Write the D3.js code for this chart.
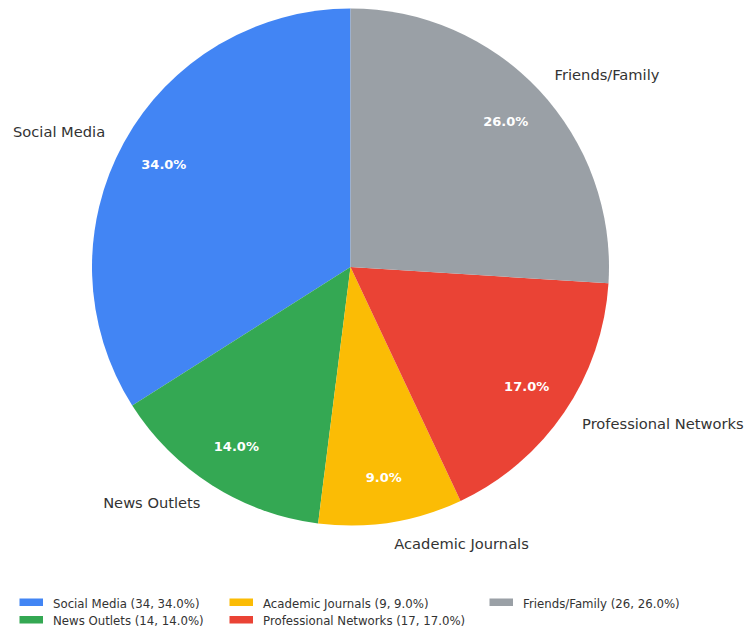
<!DOCTYPE html>
<html>
<head>
<meta charset="utf-8">
<script src="https://cdn.jsdelivr.net/npm/d3@7"></script>
<style>
  html, body { margin: 0; padding: 0; background: #fff; }
  svg { display: block; font-family: "DejaVu Sans", sans-serif; }
</style>
</head>
<body>
<svg id="chart" width="747" height="629"></svg>
<script>
// Information sources, in drawing order (counter-clockwise from 12 o'clock)
const categories = ["Social Media", "News Outlets", "Academic Journals", "Professional Networks", "Friends/Family"];
const counts = [34, 14, 9, 17, 26];
const colors = ["#4285F4", "#34A853", "#FBBC05", "#EA4335", "#9AA0A6"];

const width = 747, height = 629;
const cx = 350.5, cy = 267, radius = 258.5;
const pctRadius = 213, labelRadius = 280;

const data = categories.map((c, i) => ({ name: c, value: counts[i], color: colors[i] }));
const total = d3.sum(counts);

const svg = d3.select("#chart");
const g = svg.append("g").attr("transform", `translate(${cx},${cy})`);

// Counter-clockwise layout starting at the top
const pie = d3.pie()
  .sort(null)
  .value(d => d.value)
  .startAngle(0)
  .endAngle(-2 * Math.PI);

const arcs = pie(data);
const arc = d3.arc().innerRadius(0).outerRadius(radius);

g.selectAll("path.slice")
  .data(arcs)
  .join("path")
  .attr("class", "slice")
  .attr("d", arc)
  .attr("fill", d => d.data.color);

const mid = d => (d.startAngle + d.endAngle) / 2;
const pos = (d, r) => [Math.sin(mid(d)) * r, -Math.cos(mid(d)) * r];
const fmt = d3.format(".1f");

// Percent labels inside the slices
g.selectAll("text.pct")
  .data(arcs)
  .join("text")
  .attr("class", "pct")
  .attr("x", d => pos(d, pctRadius)[0])
  .attr("y", d => pos(d, pctRadius)[1])
  .attr("text-anchor", "middle")
  .attr("dominant-baseline", "central")
  .attr("fill", "#fff")
  .attr("font-weight", "bold")
  .attr("font-size", 13)
  .text(d => fmt(d.data.value / total * 100) + "%");

// Category labels outside the pie
g.selectAll("text.lbl")
  .data(arcs)
  .join("text")
  .attr("class", "lbl")
  .attr("x", d => pos(d, labelRadius)[0])
  .attr("y", d => pos(d, labelRadius)[1] - 0.5)
  .attr("text-anchor", d => pos(d, labelRadius)[0] < 0 ? "end" : "start")
  .attr("dominant-baseline", "central")
  .attr("fill", "#333")
  .attr("font-size", 14.67)
  .text(d => d.data.name);

// Legend: three columns, filled column by column
const legend = svg.append("g").attr("class", "legend");
const colX = [19.5, 229.5, 489.5];
const rowY = [603.5, 621];
const perCol = 2;
data.forEach((d, i) => {
  const col = Math.floor(i / perCol), row = i % perCol;
  const item = legend.append("g").attr("transform", `translate(${colX[col]},${rowY[row]})`);
  item.append("rect")
    .attr("x", 0).attr("y", -5)
    .attr("width", 23.5).attr("height", 7.5)
    .attr("fill", d.color);
  item.append("text")
    .attr("x", 33.5).attr("y", 0)
    .attr("dominant-baseline", "central")
    .attr("font-size", 11.75)
    .attr("fill", "#333")
    .text(`${d.name} (${d.value}, ${fmt(d.value / total * 100)}%)`);
});
</script>
</body>
</html>
